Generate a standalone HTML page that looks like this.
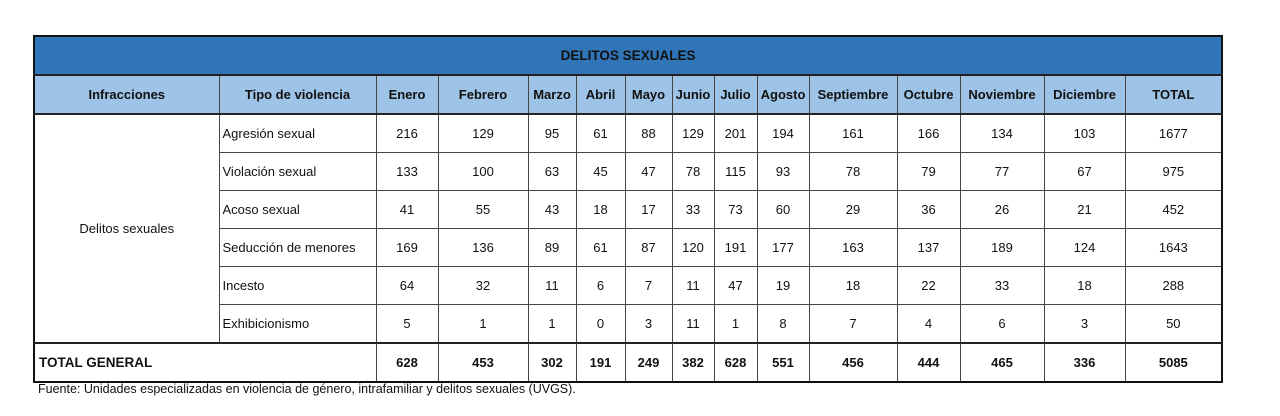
<!DOCTYPE html>
<html><head><meta charset="utf-8"><style>
body{margin:0;width:1280px;height:416px;background:#fff;position:relative;font-family:"Liberation Sans",sans-serif;overflow:hidden}
table{position:absolute;left:33px;top:35px;border-collapse:collapse;table-layout:fixed;width:1188px;border:2px solid #111;font-size:13px;color:#111}
td,th{border:1px solid #444;text-align:center;padding:0;overflow:hidden;white-space:nowrap}
.title td{background:#2f75b8;height:37px;font-weight:bold;font-size:13.5px;border-bottom:2px solid #222}
.head th{background:#9dc3e6;height:37px;font-size:13px;border-bottom:2px solid #222}
.data td{height:37px}
.data td.t{text-align:left;padding-left:3px}
.tot td{height:37px;font-weight:bold;border-top:2px solid #222}
.tot td.l{text-align:left;padding-left:4px;font-size:13.5px}
#src{position:absolute;left:38px;top:382px;font-size:12.5px;color:#111}
</style></head><body>
<table>
<colgroup>
<col style="width:185px"><col style="width:157px"><col style="width:62px"><col style="width:90px"><col style="width:48px"><col style="width:49px"><col style="width:47px"><col style="width:42px"><col style="width:43px"><col style="width:52px"><col style="width:88px"><col style="width:63px"><col style="width:84px"><col style="width:81px"><col style="width:97px">
</colgroup>
<tr class="title"><td colspan="15">DELITOS SEXUALES</td></tr>
<tr class="head">
<th>Infracciones</th><th>Tipo de violencia</th><th>Enero</th><th>Febrero</th><th>Marzo</th><th>Abril</th><th>Mayo</th><th>Junio</th><th>Julio</th><th>Agosto</th><th>Septiembre</th><th>Octubre</th><th>Noviembre</th><th>Diciembre</th><th>TOTAL</th></tr>
<tr class="data"><td rowspan="6">Delitos sexuales</td><td class="t">Agresión sexual</td><td>216</td><td>129</td><td>95</td><td>61</td><td>88</td><td>129</td><td>201</td><td>194</td><td>161</td><td>166</td><td>134</td><td>103</td><td>1677</td></tr>
<tr class="data"><td class="t">Violación sexual</td><td>133</td><td>100</td><td>63</td><td>45</td><td>47</td><td>78</td><td>115</td><td>93</td><td>78</td><td>79</td><td>77</td><td>67</td><td>975</td></tr>
<tr class="data"><td class="t">Acoso sexual</td><td>41</td><td>55</td><td>43</td><td>18</td><td>17</td><td>33</td><td>73</td><td>60</td><td>29</td><td>36</td><td>26</td><td>21</td><td>452</td></tr>
<tr class="data"><td class="t">Seducción de menores</td><td>169</td><td>136</td><td>89</td><td>61</td><td>87</td><td>120</td><td>191</td><td>177</td><td>163</td><td>137</td><td>189</td><td>124</td><td>1643</td></tr>
<tr class="data"><td class="t">Incesto</td><td>64</td><td>32</td><td>11</td><td>6</td><td>7</td><td>11</td><td>47</td><td>19</td><td>18</td><td>22</td><td>33</td><td>18</td><td>288</td></tr>
<tr class="data"><td class="t">Exhibicionismo</td><td>5</td><td>1</td><td>1</td><td>0</td><td>3</td><td>11</td><td>1</td><td>8</td><td>7</td><td>4</td><td>6</td><td>3</td><td>50</td></tr>
<tr class="tot"><td class="l" colspan="2">TOTAL GENERAL</td><td>628</td><td>453</td><td>302</td><td>191</td><td>249</td><td>382</td><td>628</td><td>551</td><td>456</td><td>444</td><td>465</td><td>336</td><td>5085</td></tr>
</table>
<div id="src">Fuente: Unidades especializadas en violencia de género, intrafamiliar y delitos sexuales (UVGS).</div>
</body></html>
